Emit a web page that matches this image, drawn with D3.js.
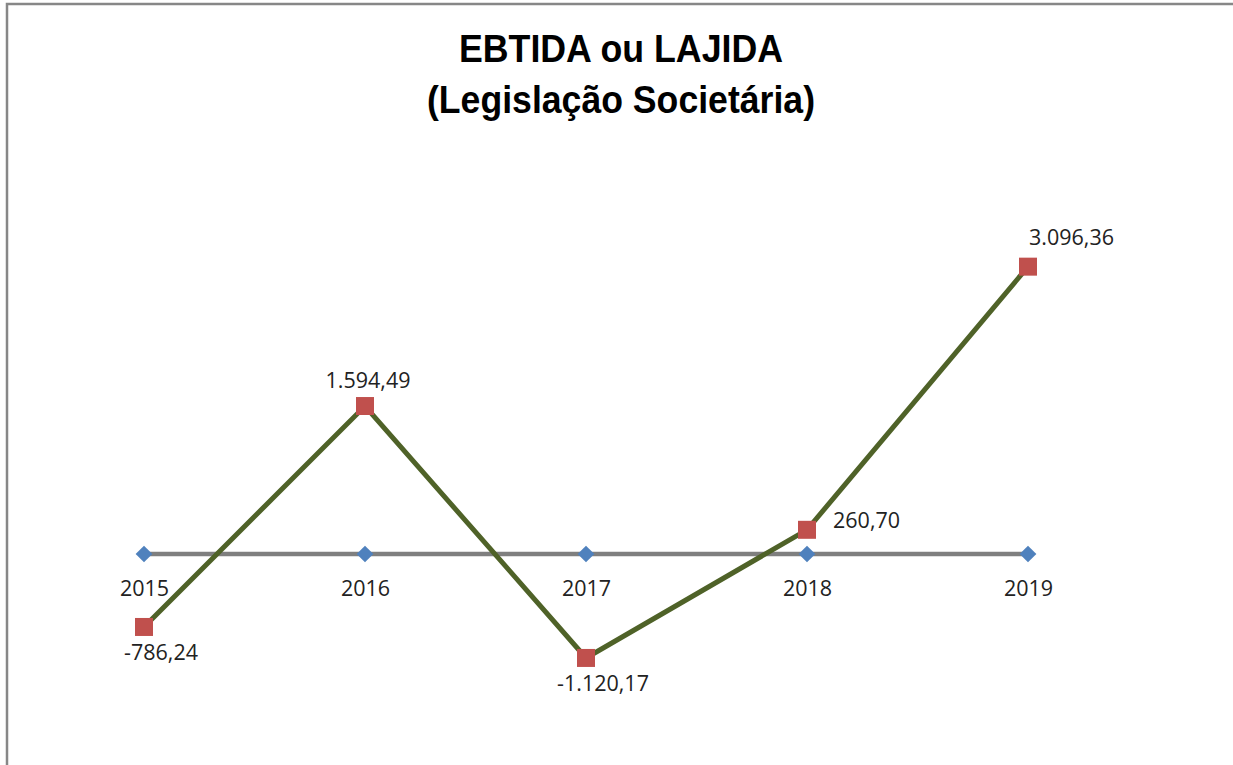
<!DOCTYPE html>
<html>
<head>
<meta charset="utf-8">
<script src="https://cdn.jsdelivr.net/npm/d3@7"></script>
<style>
  html, body { margin: 0; padding: 0; background: #fff; }
  svg { display: block; }
</style>
</head>
<body>
<svg id="chart" width="1233" height="765"></svg>
<script>
// ---- data ----
const years = ["2015", "2016", "2017", "2018", "2019"];
const ebitda = [-786.24, 1594.49, -1120.17, 260.70, 3096.36];
const baseline = [0, 0, 0, 0, 0];
const valueLabels = ["-786,24", "1.594,49", "-1.120,17", "260,70", "3.096,36"];
const titleLines = ["EBTIDA ou LAJIDA", "(Legislação Societária)"];

// ---- label placement (style config) ----
const labelPlacement = ["below", "above", "below", "right", "aboveRight"];
const titleWidths = [324, 388];

const svg = d3.select("#chart");
const W = 1233, H = 765;

svg.append("rect").attr("width", W).attr("height", H).attr("fill", "#fff");
// chart border
svg.append("rect")
  .attr("x", 7).attr("y", 4)
  .attr("width", W + 20).attr("height", H + 20)
  .attr("fill", "none")
  .attr("stroke", "#878787")
  .attr("stroke-width", 2.5);

// title
const title = svg.append("text")
  .attr("text-anchor", "middle")
  .attr("font-family", "'Liberation Sans Narrow', 'Arial Narrow', 'Liberation Sans', Arial, sans-serif")
  .attr("font-weight", "bold")
  .attr("font-size", 39)
  .attr("fill", "#000");
title.selectAll("tspan").data(titleLines).join("tspan")
  .attr("x", 621)
  .attr("y", (d, i) => i === 0 ? 62 : 113)
  .attr("textLength", (d, i) => titleWidths[i])
  .attr("lengthAdjust", "spacingAndGlyphs")
  .text(d => d);

// scales
const x = d3.scalePoint().domain(years).range([144, 1028]);
const y = d3.scaleLinear().domain([-1500, 3500]).range([693.2, 229.2]);

const labelFont = "'Open Sans', 'Noto Sans', sans-serif";

// baseline series (gray with blue diamonds)
const line = d3.line().x((d, i) => x(years[i])).y(d => y(d));
svg.append("path")
  .datum(baseline)
  .attr("d", line)
  .attr("fill", "none")
  .attr("stroke", "#7f7f7f")
  .attr("stroke-width", 4.5);

svg.selectAll(".diamond").data(baseline).join("path")
  .attr("class", "diamond")
  .attr("d", d3.symbol().type(d3.symbolSquare).size(140))
  .attr("transform", (d, i) => `translate(${x(years[i])},${y(d)}) rotate(45)`)
  .attr("fill", "#4f81bd");

// category labels (axis without line/ticks)
const axis = d3.axisBottom(x).tickSize(0).tickPadding(0);
const axG = svg.append("g")
  .attr("transform", `translate(0,${y(0)})`)
  .call(axis);
axG.select(".domain").remove();
axG.selectAll("text")
  .attr("dy", null)
  .attr("y", 42)
  .attr("font-family", labelFont)
  .attr("font-size", 21.5)
  .attr("fill", "#222");

// EBITDA series (green line, red squares)
svg.append("path")
  .datum(ebitda)
  .attr("d", line)
  .attr("fill", "none")
  .attr("stroke", "#4f6228")
  .attr("stroke-width", 5)
  .attr("stroke-linejoin", "miter");

svg.selectAll(".sq").data(ebitda).join("path")
  .attr("class", "sq")
  .attr("d", d3.symbol().type(d3.symbolSquare).size(324))
  .attr("transform", (d, i) => `translate(${x(years[i])},${y(d)})`)
  .attr("fill", "#c0504d");

// value labels
svg.selectAll(".vl").data(ebitda).join("text")
  .attr("class", "vl")
  .attr("font-family", labelFont)
  .attr("font-size", 21.5)
  .attr("fill", "#222")
  .attr("text-anchor", (d, i) => {
    const p = labelPlacement[i];
    return (p === "right" || p === "aboveRight") ? "start" : "middle";
  })
  .attr("x", (d, i) => {
    const p = labelPlacement[i], cx = x(years[i]);
    if (p === "below") return cx + 17;
    if (p === "above") return cx + 3;
    if (p === "right") return cx + 26;
    return cx + 1;
  })
  .attr("y", (d, i) => {
    const p = labelPlacement[i], cy = y(d);
    if (p === "below") return cy + 33;
    if (p === "above") return cy - 18;
    if (p === "right") return cy - 2;
    return cy - 22;
  })
  .text((d, i) => valueLabels[i]);
</script>
</body>
</html>
